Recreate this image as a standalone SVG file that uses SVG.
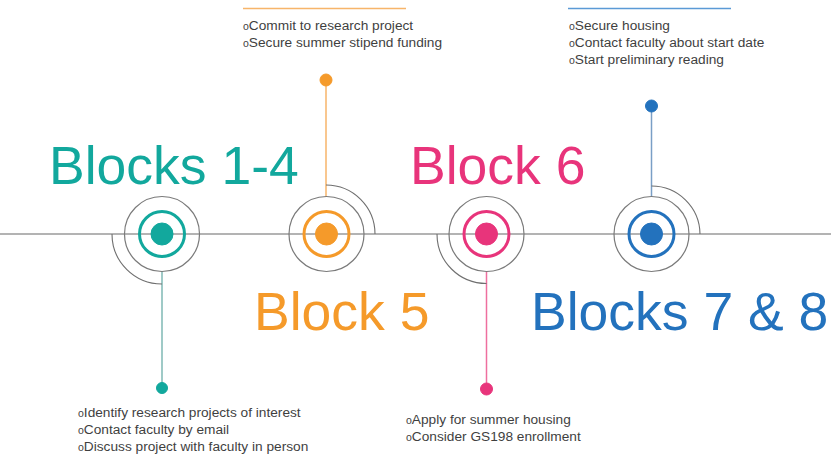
<svg xmlns="http://www.w3.org/2000/svg" width="831" height="456" viewBox="0 0 831 456">
<style>
.title{font-family:"Liberation Sans",Arial,sans-serif;font-size:53.5px}
.note{font-family:"Liberation Sans",Arial,sans-serif;font-size:13.7px;fill:#3f3f3f}
.bul{font-size:10.5px}
.outer{fill:none;stroke:#7a7a7a;stroke-width:1.2}
.arc{fill:none;stroke:#6f6f6f;stroke-width:1.1}
.ring{fill:none;stroke-width:3}
.teal{fill:#12a89d;stroke:#12a89d}
.orange{fill:#f59a2a;stroke:#f59a2a}
.pink{fill:#e8347b;stroke:#e8347b}
.blue{fill:#2372bd;stroke:#2372bd}
</style>
<rect width="831" height="456" fill="#ffffff"/>
<g id="connectors">
<line x1="0" y1="234" x2="831" y2="234" stroke="#9a9a9a" stroke-width="1.5"/>
<line x1="162" y1="271" x2="162" y2="388" stroke="#7fb9b4" stroke-width="1.5"/>
<line x1="326" y1="197" x2="326" y2="80" stroke="#f7b56a" stroke-width="1.5"/>
<line x1="486.5" y1="271" x2="486.5" y2="389" stroke="#ee6f9f" stroke-width="1.5"/>
<line x1="651.5" y1="197" x2="651.5" y2="106" stroke="#7a9fc6" stroke-width="1.5"/>
<line x1="243" y1="8.5" x2="406" y2="8.5" stroke="#f7b56a" stroke-width="1.5"/>
<line x1="568" y1="8.5" x2="731" y2="8.5" stroke="#5b9ad6" stroke-width="1.5"/>
</g>
<g id="node-blocks-1-4">
<path class="arc" d="M112,234 A50,50 0 0 0 162,284"/>
<circle class="outer" cx="162" cy="234" r="37.5"/>
<circle class="ring teal" style="fill:none" cx="162" cy="234" r="22.5"/>
<circle class="teal" cx="162" cy="234" r="11" stroke="none"/>
<circle class="teal" cx="162" cy="388" r="5.5" stroke="none"/>
<text class="title" x="49" y="184" fill="#12a89d">Blocks 1-4</text>
<text class="note" x="78" y="417"><tspan class="bul">o</tspan>Identify research projects of interest</text>
<text class="note" x="78" y="434"><tspan class="bul">o</tspan>Contact faculty by email</text>
<text class="note" x="78" y="451"><tspan class="bul">o</tspan>Discuss project with faculty in person</text>
</g>
<g id="node-block-5">
<path class="arc" d="M326,185 A49,49 0 0 1 375,234"/>
<circle class="outer" cx="326.5" cy="234" r="37.5"/>
<circle class="ring orange" style="fill:none" cx="326.5" cy="234" r="22.5"/>
<circle class="orange" cx="326.5" cy="234" r="11" stroke="none"/>
<circle class="orange" cx="326" cy="80" r="6" stroke="none"/>
<text class="title" x="254" y="330" fill="#f59a2a">Block 5</text>
<text class="note" x="243" y="30"><tspan class="bul">o</tspan>Commit to research project</text>
<text class="note" x="243" y="47"><tspan class="bul">o</tspan>Secure summer stipend funding</text>
</g>
<g id="node-block-6">
<path class="arc" d="M437,234 A49.5,49.5 0 0 0 486.5,283.5"/>
<circle class="outer" cx="486.5" cy="234" r="37.5"/>
<circle class="ring pink" style="fill:none" cx="486.5" cy="234" r="22.5"/>
<circle class="pink" cx="486.5" cy="234" r="11" stroke="none"/>
<circle class="pink" cx="486.5" cy="389" r="6" stroke="none"/>
<text class="title" x="410" y="184" fill="#e8347b">Block 6</text>
<text class="note" x="406" y="424"><tspan class="bul">o</tspan>Apply for summer housing</text>
<text class="note" x="406" y="441"><tspan class="bul">o</tspan>Consider GS198 enrollment</text>
</g>
<g id="node-blocks-7-8">
<path class="arc" d="M651.5,186 A48.5,48.5 0 0 1 700,234"/>
<circle class="outer" cx="651.5" cy="234" r="37.5"/>
<circle class="ring blue" style="fill:none" cx="651.5" cy="234" r="22.5"/>
<circle class="blue" cx="651.5" cy="234" r="11" stroke="none"/>
<circle class="blue" cx="651.5" cy="106" r="6" stroke="none"/>
<text class="title" x="531" y="330" fill="#2372bd">Blocks 7 &amp; 8</text>
<text class="note" x="569" y="30"><tspan class="bul">o</tspan>Secure housing</text>
<text class="note" x="569" y="47"><tspan class="bul">o</tspan>Contact faculty about start date</text>
<text class="note" x="569" y="64"><tspan class="bul">o</tspan>Start preliminary reading</text>
</g>
</svg>
